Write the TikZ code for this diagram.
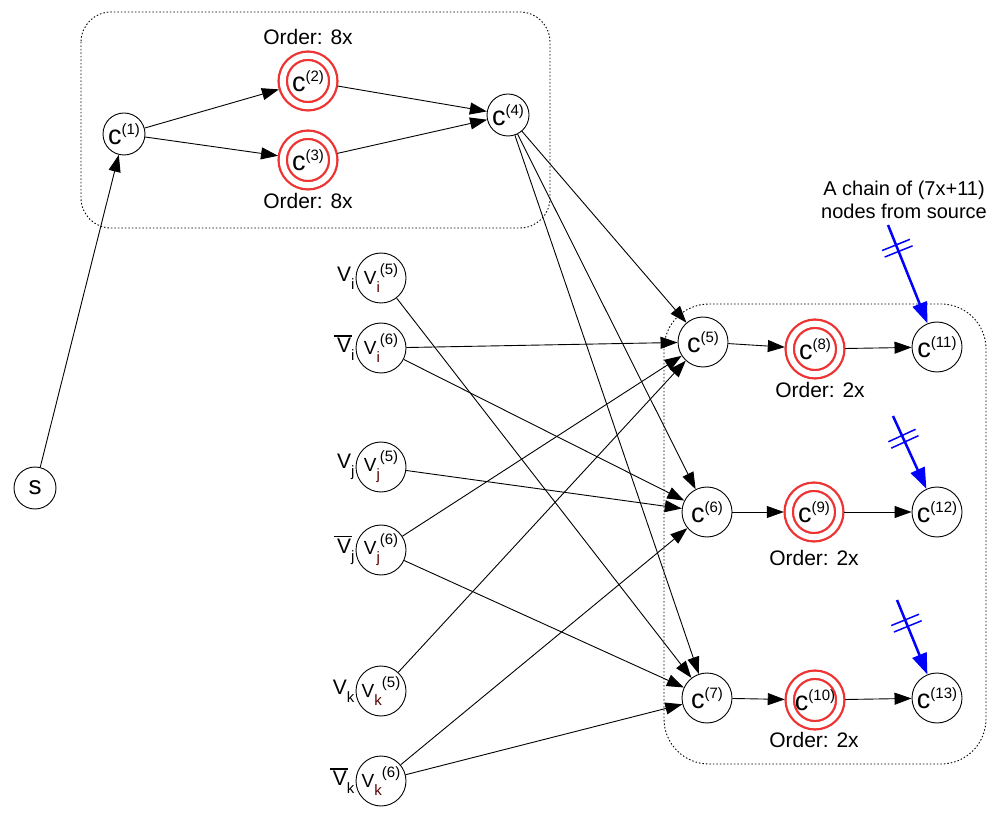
\documentclass[tikz,border=0pt]{standalone}
\usepackage{fontspec}
\setmainfont{Liberation Sans}
\usetikzlibrary{positioning, arrows.meta, decorations.markings}
\definecolor{ringred}{HTML}{EE3333}
\definecolor{subred}{HTML}{5A0000}
\definecolor{chainblue}{HTML}{0000FF}

% clause and literal labels
\newcommand{\cv}[1]{{\fontsize{27}{27}\selectfont c}\raisebox{10pt}{\fontsize{15}{15}\selectfont(#1)}}
\newcommand{\lit}[2]{V\raisebox{-8pt}{\fontsize{15}{15}\selectfont\color{subred}#1}\raisebox{10pt}{\fontsize{15}{15}\selectfont(#2)}}
\newcommand{\vlab}[1]{V\raisebox{-8pt}{\fontsize{15}{15}\selectfont #1}}
\newcommand{\nvlab}[1]{\makebox[0pt][l]{\hspace{-3pt}\rule[16pt]{18pt}{1.7pt}}\vlab{#1}}

\begin{document}
\begin{tikzpicture}[x=1pt, y=-1pt,
    every node/.style={font=\fontsize{21}{23}\selectfont},
    clause/.style={draw, circle, line width=0.9pt, minimum size=50pt, inner sep=0pt, fill=white},
    ring/.style={draw=ringred, circle, line width=2.3pt, double=white, double distance=6pt,
                 minimum size=50.5pt, inner sep=0pt, outer sep=5pt},
    litnode/.style={draw, circle, line width=0.9pt, minimum size=50pt, inner sep=0pt,
                    font=\fontsize{19}{19}\selectfont},
    litlab/.style={inner sep=1pt, font=\fontsize{21}{21}\selectfont},
    wire/.style={-{Triangle[length=17pt,width=12pt]}, line width=0.9pt},
    chainarrow/.style={chainblue, line width=2.5pt, -{Triangle[length=21pt,width=15pt]},
      postaction={decorate},
      decoration={markings, mark=at position 25pt with
        {\draw[-, line width=1.5pt] (-3.5pt,-15pt) -- (-3.5pt,15pt) (3.5pt,-15pt) -- (3.5pt,15pt);}}},
    groupbox/.style={line width=0.9pt, dash pattern=on 1.5pt off 2pt}]
  \useasboundingbox (0,0) rectangle (1005,818);

  % gadget boxes
  \draw[groupbox, rounded corners=30pt] (81,12) rectangle (550,228);
  \draw[groupbox, rounded corners=45pt] (664,304) rectangle (986,764);

  % source part
  \node[clause, minimum size=42pt, font=\fontsize{26}{26}\selectfont] (s) at (35,488) {s};
  \node[clause, minimum size=42pt] (c1) at (124,134) {\cv{1}};
  \node[ring] (c2) at (308,81) {\cv{2}};
  \node[ring] (c3) at (308,160) {\cv{3}};
  \node[clause, minimum size=42pt] (c4) at (508,115) {\cv{4}};
  \node (ord2) at (308,37) {Order: 8x};
  \node (ord3) at (308,201) {Order: 8x};

  % literals
  \node[litnode] (vi5) at (381,278) {\lit{i}{5}};
  \node[litnode] (vi6) at (381,348) {\lit{i}{6}};
  \node[litnode] (vj5) at (381,467) {\lit{j}{5}};
  \node[litnode] (vj6) at (381,550) {\lit{j}{6}};
  \node[litnode] (vk5) at (381,691) {\lit{k}{5}};
  \node[litnode] (vk6) at (381,781) {\lit{k}{6}};
  \node[litlab, left=0pt of vi5] (li5) {\vlab{i}};
  \node[litlab, left=0pt of vi6] (li6) {\nvlab{i}};
  \node[litlab, left=0pt of vj5] (lj5) {\vlab{j}};
  \node[litlab, left=0pt of vj6] (lj6) {\nvlab{j}};
  \node[litlab, left=0pt of vk5] (lk5) {\vlab{k}};
  \node[litlab, left=0pt of vk6] (lk6) {\nvlab{k}};

  % clause rows
  \node[clause] (c5) at (703,342) {\cv{5}};
  \node[clause] (c6) at (707,512) {\cv{6}};
  \node[clause] (c7) at (707,698) {\cv{7}};
  \node[ring] (c8) at (815,349) {\cv{8}};
  \node[ring] (c9) at (814,512) {\cv{9}};
  \node[ring] (c10) at (815,700) {\cv{10}};
  \node[clause] (c11) at (937,347) {\cv{11}};
  \node[clause] (c12) at (937,512) {\cv{12}};
  \node[clause] (c13) at (937,698) {\cv{13}};
  \node (ord8) at (820,390) {Order: 2x};
  \node (ord9) at (814,558) {Order: 2x};
  \node (ord10) at (814,740) {Order: 2x};

  % chains from the source
  \node[align=center, font=\fontsize{20}{23}\selectfont] (note) at (904,200) {A chain of (7x+11)\\nodes from source};
  \coordinate (t11) at (888,225);
  \coordinate (t12) at (893,416);
  \coordinate (t13) at (897,600);
  \draw[chainarrow] (t11) -- (c11);
  \draw[chainarrow] (t12) -- (c12);
  \draw[chainarrow] (t13) -- (c13);

  % edges
  \draw[wire] (s) -- (c1);
  \draw[wire] (c1) -- (c2);
  \draw[wire] (c1) -- (c3);
  \draw[wire] (c2) -- (c4);
  \draw[wire] (c3) -- (c4);
  \draw[wire] (c4) -- (c5);
  \draw[wire] (c4) -- (c6);
  \draw[wire] (c4) -- (c7);
  \draw[wire] (vi5) -- (c7);
  \draw[wire] (vi6) -- (c5);
  \draw[wire] (vi6) -- (c6);
  \draw[wire] (vj5) -- (c6);
  \draw[wire] (vj6) -- (c5);
  \draw[wire] (vj6) -- (c7);
  \draw[wire] (vk5) -- (c5);
  \draw[wire] (vk6) -- (c6);
  \draw[wire] (vk6) -- (c7);
  \draw[wire] (c5) -- (c8);
  \draw[wire] (c6) -- (c9);
  \draw[wire] (c7) -- (c10);
  \draw[wire] (c8) -- (c11);
  \draw[wire] (c9) -- (c12);
  \draw[wire] (c10) -- (c13);
\end{tikzpicture}
\end{document}
